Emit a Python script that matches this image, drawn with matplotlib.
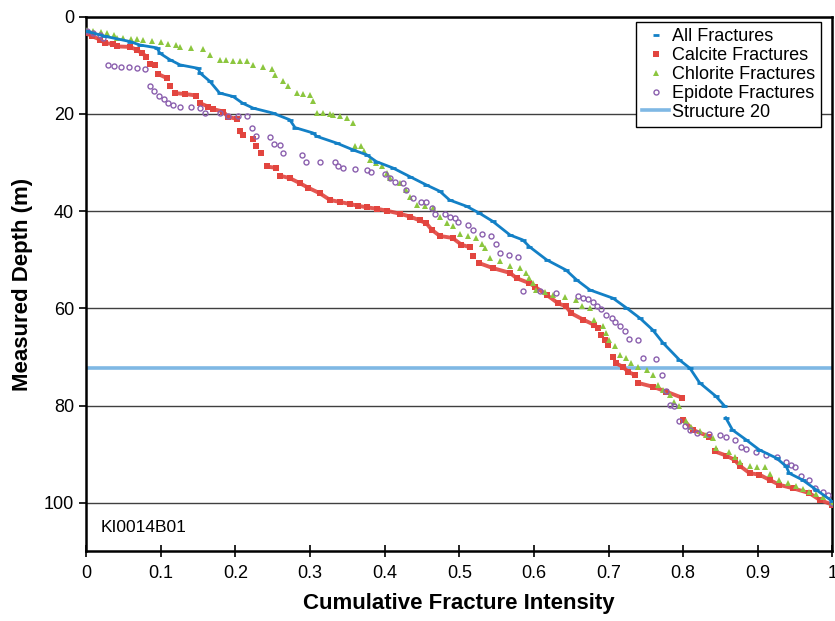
import matplotlib
matplotlib.use('Agg')
import matplotlib.pyplot as plt
import numpy as np

plt.rcParams['font.family'] = ['Liberation Sans', 'DejaVu Sans']

nan = np.nan

# cumulative intensity (x) vs measured depth (m)
# nan marks a break in the depth sequence (no fractures in between)
all_x = [0.001, 0.025, 0.059, 0.072, 0.095, 0.099, 0.112, 0.126, 0.150, 0.153, 0.166, 0.179,
         0.197, 0.210, 0.224, 0.250, 0.273, 0.280, 0.304, 0.309, 0.336, 0.358, 0.376, 0.389,
         0.411, 0.434, 0.456, 0.474, 0.487, 0.510, 0.527, 0.545, 0.568, 0.585, 0.594, 0.617,
         0.643, 0.657, 0.675, 0.706, 0.724, 0.742, 0.759, 0.773, 0.795, 0.809, 0.822, 0.844,
         0.855, nan, 0.857, 0.866, 0.884, 0.902, 0.925, 0.938, 0.942, 0.960, 0.978, 1.0]
all_d = [3.0, 4.0, 5.1, 5.8, 6.4, 7.5, 8.8, 9.9, 10.6, 11.6, 13.3, 15.7,
         16.4, 17.8, 18.8, 19.8, 21.2, 22.8, 23.9, 24.6, 26.0, 27.4, 28.4, 29.8,
         31.1, 32.9, 34.6, 35.9, 37.7, 39.0, 40.4, 42.1, 44.9, 45.9, 47.3, 50.0,
         52.1, 54.1, 56.2, 57.9, 59.9, 62.0, 64.4, 67.1, 70.6, 72.3, 75.3, 78.1,
         80.0, nan, 82.5, 85.0, 87.0, 89.1, 90.8, 92.5, 93.9, 95.3, 97.3, 99.7]

calcite_x = [0.001, 0.008, 0.019, 0.025, 0.036, 0.041, 0.059, 0.068, 0.075, 0.081, nan,
             0.086, 0.092, nan, 0.097, 0.108, nan, 0.112, nan, 0.119, 0.133, 0.148, nan,
             0.153, 0.164, 0.170, 0.184, 0.190, 0.202, nan,
             0.206, 0.210, nan, 0.224, nan, 0.228, nan, 0.235, nan, 0.242, 0.255, nan,
             0.260, 0.273, 0.286, 0.298, 0.313, 0.327, 0.340, 0.353, 0.365, 0.376, 0.390, 0.403,
             0.420, 0.434, 0.447, 0.456, 0.463, 0.474, 0.491, 0.503, 0.514, nan, 0.519, nan,
             0.527, 0.545, 0.568, 0.577, 0.594, 0.601, 0.617, 0.632, 0.643, 0.650, 0.666, 0.681,
             0.686, nan, 0.690, nan, 0.695, nan, 0.699, nan, 0.706, nan,
             0.710, 0.719, 0.726, 0.735, nan, 0.739, 0.759, 0.777, 0.799, nan,
             0.800, 0.813, 0.835, nan,
             0.842, 0.858, 0.869, 0.876, 0.889, 0.902, 0.916, 0.929, 0.947, 0.969, 0.983, 1.0]
calcite_d = [3.4, 4.0, 4.7, 5.4, 5.6, 6.1, 6.2, 6.8, 7.5, 8.2, nan,
             9.7, 10.0, nan, 11.8, 12.6, nan, 14.3, nan, 15.7, 15.9, 16.2, nan,
             17.8, 18.5, 19.0, 19.5, 20.6, 21.0, nan,
             23.6, 24.3, nan, 25.1, nan, 26.5, nan, 28.1, nan, 30.8, 31.1, nan,
             32.7, 33.2, 34.2, 35.2, 36.3, 37.7, 38.1, 38.5, 38.9, 39.2, 39.5, 39.9,
             40.5, 41.1, 41.9, 42.5, 43.8, 45.1, 45.5, 46.9, 47.4, nan, 49.3, nan,
             50.7, 51.7, 52.7, 53.8, 54.8, 55.5, 57.2, 58.9, 59.6, 61.0, 62.3, 63.4,
             64.1, nan, 65.4, nan, 66.5, nan, 67.5, nan, 69.9, nan,
             71.3, 72.0, 73.0, 73.7, nan, 75.3, 76.1, 77.1, 78.4, nan,
             82.9, 85.0, 86.4, nan,
             89.4, 90.3, 91.2, 92.4, 93.9, 94.2, 95.3, 96.3, 97.0, 98.0, 99.4, 100.4]

chlorite_x = [0.001, 0.010, 0.020, 0.028, 0.037, 0.041, 0.050, 0.060, 0.068, 0.077, 0.088, 0.100,
              0.110, 0.121, 0.126, 0.140, 0.157, 0.166, 0.179, 0.188, 0.197, 0.206, 0.215, 0.224,
              0.237, 0.249, 0.253, 0.264, 0.271, 0.282, 0.291, 0.300, 0.304, 0.309, 0.318,
              0.327, 0.331, 0.340, 0.349, 0.358, 0.360, 0.369, 0.373, 0.380, 0.388, 0.396, 0.403,
              0.407, 0.420, 0.429, 0.434, 0.443, 0.454, 0.465, 0.474, 0.483, 0.492, 0.501, 0.512,
              0.523, 0.530, 0.534, 0.541, 0.554, 0.568, 0.581, 0.590, 0.594, 0.599, 0.603, 0.615,
              0.626, 0.642, 0.657, 0.664, 0.675, 0.681, 0.692, 0.697, 0.701, 0.708, 0.715, 0.724,
              0.730, 0.740, 0.751, 0.759, 0.766, 0.773, 0.782, 0.788, 0.795, 0.804, 0.811, 0.822,
              0.831, 0.840, 0.844, 0.862, 0.869, 0.876, 0.889, 0.899, 0.909, 0.916, 0.929, 0.940,
              0.951, 0.960, 0.969, 0.978, 0.987, 1.0]
chlorite_d = [2.7, 2.9, 3.2, 3.4, 3.7, 4.4, 4.4, 4.5, 4.6, 4.7, 4.9, 5.2,
              5.5, 5.8, 6.2, 6.4, 6.7, 7.8, 8.8, 8.9, 9.0, 9.1, 9.2, 10.0,
              10.3, 10.7, 11.9, 13.3, 14.3, 15.7, 15.8, 16.0, 17.4, 19.7, 19.8,
              20.0, 20.2, 20.5, 20.9, 21.9, 26.5, 26.5, 27.7, 29.4, 30.0, 30.8, 32.2,
              33.2, 34.2, 35.6, 37.0, 38.7, 39.0, 39.4, 41.1, 42.5, 43.1, 44.7, 45.1,
              45.5, 46.7, 47.6, 49.7, 50.3, 51.2, 51.7, 52.7, 53.8, 54.8, 56.2, 56.7,
              57.2, 57.7, 58.2, 59.5, 60.0, 62.3, 63.7, 65.0, 66.6, 67.7, 69.6, 70.2,
              71.3, 72.0, 72.6, 73.7, 75.7, 76.7, 77.8, 79.2, 80.0, 83.1, 84.3, 85.3,
              86.0, 86.7, 88.7, 89.6, 90.5, 91.5, 92.5, 92.6, 92.7, 94.0, 95.3, 96.0,
              96.6, 97.2, 97.7, 98.2, 98.7, 100.0]

epidote_x = [0.002, 0.010, 0.019, 0.023, 0.029, 0.037, 0.047, 0.058, 0.068, 0.079, 0.086, 0.091,
             0.098, 0.104, 0.110, 0.117, 0.126, 0.140, 0.153, 0.159, 0.179, 0.190, 0.203, 0.215,
             0.222, 0.228, 0.246, 0.252, 0.260, 0.264, 0.289, 0.295, 0.314, 0.333, 0.338, 0.344,
             0.360, 0.376, 0.382, 0.400, 0.407, 0.414, 0.425, 0.429, 0.438, 0.449, 0.456, 0.463,
             0.467, 0.481, 0.487, 0.494, 0.498, 0.512, 0.519, 0.530, 0.543, 0.549, 0.554, 0.566,
             0.579, 0.585, 0.608, 0.630, 0.659, 0.666, 0.672, 0.679, 0.684, 0.690, 0.697, 0.704,
             0.708, 0.715, 0.722, 0.728, 0.739, 0.746, 0.764, 0.771, 0.777, 0.782, 0.788, 0.795,
             0.802, 0.809, 0.818, 0.835, 0.849, 0.858, 0.869, 0.878, 0.884, 0.898, 0.911, 0.925,
             0.938, 0.945, 0.950, 0.958, 0.969, 0.976, 0.987, 0.994, 1.0]
epidote_d = [2.9, 3.4, 3.7, 4.4, 9.9, 10.2, 10.3, 10.4, 10.5, 10.7, 14.3, 15.2,
             16.4, 16.9, 17.8, 18.1, 18.5, 18.6, 18.8, 19.7, 19.8, 20.4, 20.5, 20.5,
             22.9, 24.6, 24.8, 26.2, 26.3, 28.1, 28.5, 29.8, 29.8, 29.9, 30.8, 31.2,
             31.4, 31.5, 32.0, 32.4, 33.2, 33.9, 34.1, 35.6, 37.2, 38.2, 38.2, 39.4,
             40.5, 40.6, 41.1, 41.4, 42.3, 42.9, 43.8, 44.6, 45.2, 46.7, 48.6, 49.0,
             49.5, 56.4, 56.5, 56.9, 57.4, 57.9, 58.1, 58.6, 59.6, 60.2, 61.3, 61.9,
             62.7, 63.7, 64.7, 66.3, 66.6, 70.1, 70.4, 73.8, 76.9, 79.8, 80.0, 83.1,
             84.2, 85.0, 85.7, 85.9, 86.0, 86.5, 87.0, 88.5, 88.9, 89.6, 90.1, 90.6,
             91.5, 92.2, 92.7, 94.4, 95.3, 97.0, 97.7, 98.4, 100.0]

structure_depth = 72.2
borehole = 'KI0014B01'

blue = '#1380c6'
red = '#e2453f'
green = '#8cc63f'
purple = '#8b5fae'

fig = plt.figure(figsize=(8.35, 6.21), dpi=100)
ax = fig.add_axes([0.103, 0.112, 0.894, 0.861])

ax.axhline(structure_depth, color='#7fb8e4', lw=2.6, zorder=2, label='Structure 20')
ax.plot(all_x, all_d, color=blue, lw=2.0, zorder=5)
ax.plot(all_x, all_d, ls='none', marker='_', ms=5, mew=2, color=blue, zorder=5,
        label='All Fractures')
ax.plot(calcite_x, calcite_d, color=red, lw=2.8, alpha=0.9, zorder=3)
ax.plot(calcite_x, calcite_d, ls='none', marker='s', ms=3.8, mew=0, color=red, zorder=3,
        label='Calcite Fractures')
ax.plot(chlorite_x, chlorite_d, ls='none', marker='^', ms=4.6, mew=0, color=green, zorder=4,
        label='Chlorite Fractures')
ax.plot(epidote_x, epidote_d, ls='none', marker='o', ms=3.6, mew=1, mfc='none', color=purple,
        zorder=4, label='Epidote Fractures')

ax.set_xlim(0, 1)
ax.set_ylim(110, 0)
ax.set_xticks(np.arange(0, 1.01, 0.1))
ax.set_xticklabels(['0', '0.1', '0.2', '0.3', '0.4', '0.5', '0.6', '0.7', '0.8', '0.9', '1'])
ax.set_yticks([0, 20, 40, 60, 80, 100])
ax.grid(axis='y', color='#404040', lw=1, zorder=1)
ax.tick_params(axis='both', labelsize=13, direction='out', length=5, width=1.2)
ax.tick_params(axis='x', direction='inout', length=8, pad=6)
for s in ax.spines.values():
    s.set_linewidth(1.8)

ax.set_xlabel('Cumulative Fracture Intensity', fontsize=16, fontweight='bold', labelpad=8)
ax.set_ylabel('Measured Depth (m)', fontsize=16, fontweight='bold', labelpad=8)
ax.text(0.02, 105, borehole, fontsize=12.5, va='center')

# legend order as in the chart
h, l = ax.get_legend_handles_labels()
order = [1, 2, 3, 4, 0]
leg = ax.legend([h[i] for i in order], [l[i] for i in order], loc='upper right',
                bbox_to_anchor=(0.985, 0.99), fontsize=13, fancybox=False, framealpha=1,
                edgecolor='black', borderpad=0.35, labelspacing=0.1, handlelength=1.5,
                handletextpad=0.15, borderaxespad=0)
leg.get_frame().set_linewidth(1.0)

fig.savefig('out.png', dpi=100)
